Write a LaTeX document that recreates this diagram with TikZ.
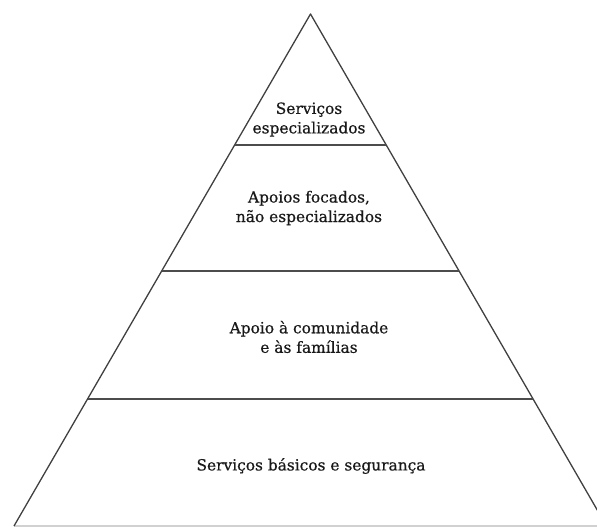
\documentclass[tikz,border=0pt]{standalone}
\usepackage{fontspec}
\setmainfont[FakeBold=0.6]{DejaVu Serif}
\usetikzlibrary{calc}

\begin{document}
\begin{tikzpicture}[x=1pt,y=-1pt,line join=round,
                    side/.style={draw=black!75,line width=1.3pt},
                    level/.style={draw=black!70,line width=1.5pt},
                    tier/.style={align=center,text=black!90,
                                 font=\fontsize{15.4}{19.5}\selectfont}]
  \useasboundingbox (0,0) rectangle (597,527);
  \clip (0,0) rectangle (597,527);

  % the pyramid
  \coordinate (top) at (310.5,14);
  \coordinate (bl) at (14,526);
  \coordinate (br) at (606.5,526);

  \draw[black!18,line width=1.2pt] (bl) -- (br);
  \draw[side] (bl) -- (top) -- (br);

  % the levels
  \draw[level] ($(top)!0.2559!(bl)$) -- ($(top)!0.2559!(br)$);
  \draw[level] ($(top)!0.5020!(bl)$) -- ($(top)!0.5020!(br)$);
  \draw[level] ($(top)!0.7520!(bl)$) -- ($(top)!0.7520!(br)$);

  \node[tier] (special)   at (309,119.5) {Serviços\\especializados};
  \node[tier] (focused)   at (309,208)   {Apoios focados,\\não especializados};
  \node[tier] (community) at (309,337)   {Apoio à comunidade\\e às famílias};
  \node[tier] (basic)     at (311,466)   {Serviços básicos e segurança};
\end{tikzpicture}
\end{document}
